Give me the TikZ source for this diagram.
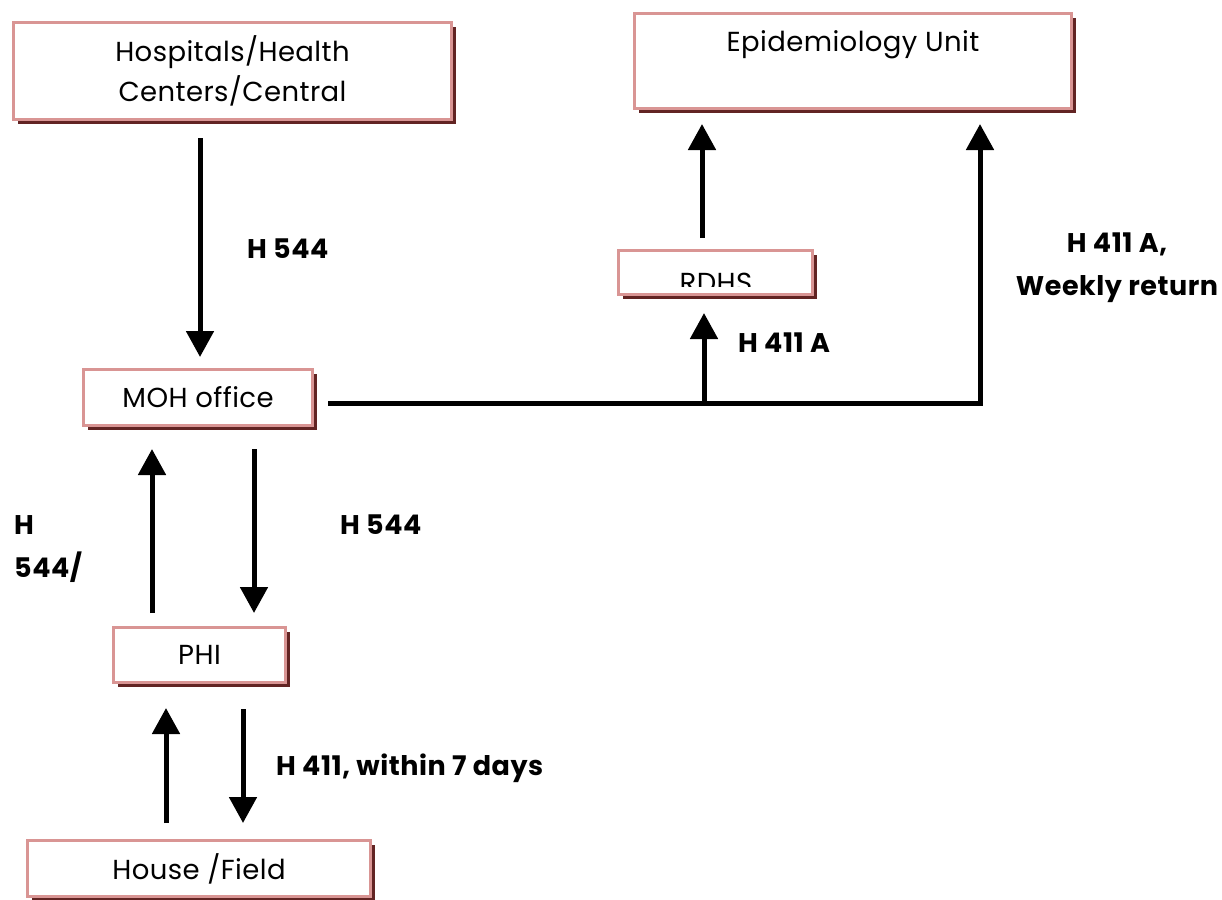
\documentclass[tikz,border=0pt]{standalone}
\usepackage{fontspec}
\setmainfont{Poppins}
\usetikzlibrary{arrows.meta,shadows}
\definecolor{pinkc}{HTML}{D99594}
\definecolor{shadowc}{HTML}{622423}
\tikzset{
  boxnode/.style={draw=pinkc, line width=3pt, fill=white, inner sep=0pt,
    drop shadow={shadow xshift=4.5pt, shadow yshift=-4.5pt, fill=shadowc, opacity=1},
    font=\fontsize{27.5}{40}\selectfont\addfontfeature{LetterSpace=1.5}, align=center},
  boxtext/.style={inner sep=0pt, font=\fontsize{27.5}{40}\selectfont\addfontfeature{LetterSpace=1.5}},
  lbl/.style={inner sep=0pt, font=\fontsize{27}{43}\selectfont\bfseries\addfontfeature{LetterSpace=2}},
  flow/.style={line width=5pt, -{Triangle[width=27pt,length=26pt]}},
  plain/.style={line width=5pt}
}
\begin{document}
\begin{tikzpicture}[x=1pt,y=-1pt]
\useasboundingbox (0,0) rectangle (1222,899);
% boxes (outer edges inset by half the border width)
\node[boxnode, minimum width=438pt, minimum height=97pt] (hosp) at (232.5,71) {Hospitals/Health\\Centers/Central};
\node[boxnode, minimum width=437pt, minimum height=95pt] (epi) at (853,61) {};
\node[boxtext, anchor=base] (epitext) at (853,52) {Epidemiology Unit};
\node[boxnode, minimum width=194pt, minimum height=44pt] (rdhs) at (715.5,272.5) {};
\begin{scope}
\clip (619,251) rectangle (812,286);
\node[boxtext, anchor=base] (rdhstext) at (716,292) {RDHS};
\end{scope}
\node[boxnode, minimum width=229pt, minimum height=56pt] (moh) at (198,397.5) {MOH office};
\node[boxnode, minimum width=172pt, minimum height=55pt] (phi) at (199.5,655) {PHI};
\node[boxnode, minimum width=343pt, minimum height=56pt] (field) at (199,868.5) {House /Field};
% connector end points
\coordinate (a1s) at (200,138);  \coordinate (a1e) at (200,357);
\coordinate (a2s) at (152,613);  \coordinate (a2e) at (152,449);
\coordinate (a3s) at (254,449);  \coordinate (a3e) at (254,613);
\coordinate (a4s) at (166,823);  \coordinate (a4e) at (166,708);
\coordinate (a5s) at (243,709);  \coordinate (a5e) at (243,823);
\coordinate (a6s) at (702,238);  \coordinate (a6e) at (702,124);
\coordinate (hs) at (328,403);   \coordinate (he) at (980,124);
\coordinate (bs) at (704,403);   \coordinate (be) at (704,313);
% connectors
\draw[flow] (a1s) -- (a1e);
\draw[flow] (a2s) -- (a2e);
\draw[flow] (a3s) -- (a3e);
\draw[flow] (a4s) -- (a4e);
\draw[flow] (a5s) -- (a5e);
\draw[flow] (a6s) -- (a6e);
\draw[flow] (hs) -| (he);
\draw[flow] (bs) -- (be);
% labels
\node[lbl, anchor=base west] (l1) at (247,258) {H 544};
\node[lbl, anchor=base west] (l2) at (738,352) {H 411 A};
\node[lbl, anchor=base] (l3a) at (1117,252) {H 411 A,};
\node[lbl, anchor=base] (l3b) at (1117,295) {Weekly return};
\node[lbl, anchor=base west] (l4a) at (14,534) {H};
\node[lbl, anchor=base west] (l4b) at (14,577) {544/};
\node[lbl, anchor=base west] (l5) at (340,534) {H 544};
\node[lbl, anchor=base west] (l6) at (276,775) {H 411, within 7 days};
\end{tikzpicture}
\end{document}
